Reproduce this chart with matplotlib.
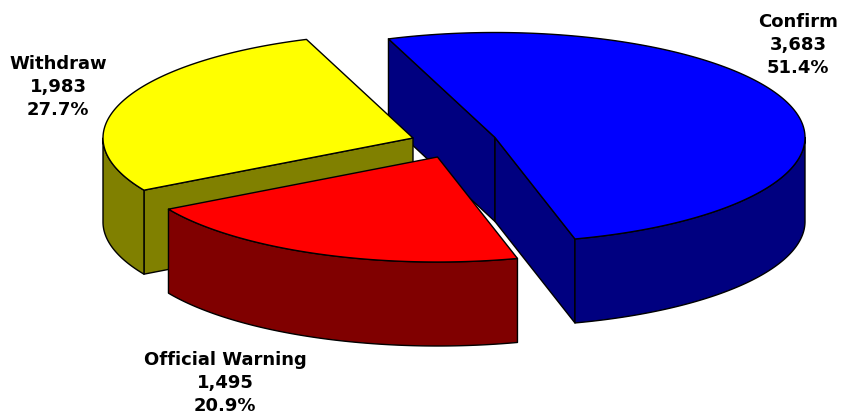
import numpy as np
import matplotlib
matplotlib.use("Agg")
import matplotlib.pyplot as plt

categories = ["Confirm", "Official Warning", "Withdraw"]
values = [3683, 1495, 1983]
percent_labels = ["51.4%", "20.9%", "27.7%"]
value_labels = ["3,683", "1,495", "1,983"]
top_colors = ["#0000FF", "#FF0000", "#FFFF00"]
side_colors = ["#000080", "#800000", "#808000"]

apexes = [(495, 137.5), (437.5, 157), (413, 138)]
label_pos = [(798, 45), (225, 383), (58, 87)]
RX, RY, DEPTH = 310, 105, 84
START = -20.1

fig = plt.figure(figsize=(8.41, 4.15), dpi=100)
ax = fig.add_axes([0, 0, 1, 1])
ax.set_xlim(0, 841)
ax.set_ylim(415, 0)
ax.axis("off")


def arc(center, a0, a1):
    t = np.radians(np.linspace(a0, a1, 200))
    return np.column_stack([center[0] + RX * np.sin(t), center[1] - RY * np.cos(t)])


def draw(pts, color, z):
    ax.fill(pts[:, 0], pts[:, 1], facecolor=color, edgecolor="black", lw=1.0, zorder=z, joinstyle="round")


def down(pts):
    return pts + np.array([0, DEPTH])


total = sum(values)
angles = START + np.concatenate([[0], np.cumsum(values)]) / total * 360
order = {0: 1, 2: 2, 1: 3}
for i in range(3):
    a0, a1 = angles[i], angles[i + 1]
    c = np.array(apexes[i], dtype=float)
    z = order[i] * 10
    outer = arc(c, a0, a1)
    # radial faces
    for end in (outer[0], outer[-1]):
        face = np.array([c, end])
        if end[1] > c[1] or (i == 0):
            # radial face turned to the viewer
            if i == 1:
                continue
            if i == 2 and end[1] < c[1]:
                continue
            draw(np.vstack([face, down(face)[::-1]]), side_colors[i], z)
    # outer rim: only the part in front of the ellipse centre
    lo, hi = max(a0, 90), min(a1, 270)
    rim = arc(c, lo, hi)
    draw(np.vstack([rim, down(rim)[::-1]]), side_colors[i], z + 1)
    # top face
    draw(np.vstack([c, outer]), top_colors[i], z + 2)
    # label
    x, y = label_pos[i]
    ax.text(x, y, f"{categories[i]}\n{value_labels[i]}\n{percent_labels[i]}", ha="center", va="center",
            fontsize=13, fontweight="bold", family="DejaVu Sans", linespacing=1.35, zorder=50)

fig.savefig("out.png", dpi=100)
